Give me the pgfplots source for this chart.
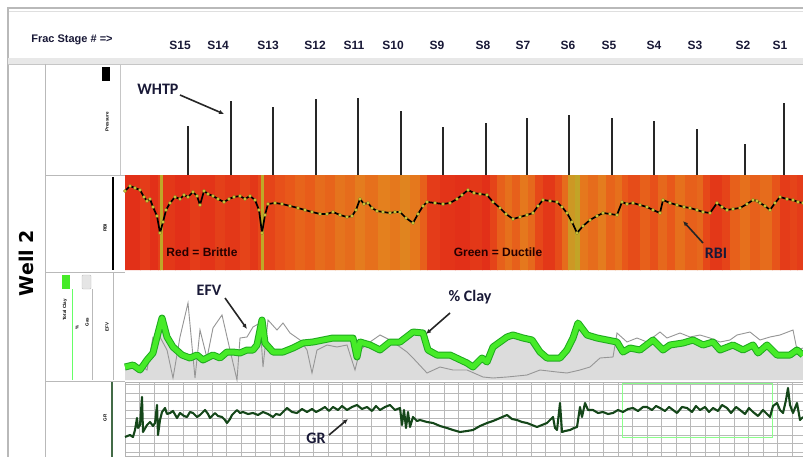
\documentclass[border=0pt]{standalone}
\usepackage{fontspec}
\setmainfont{Liberation Sans}
\newfontfamily\carl{Carlito}
\newfontfamily\dvs{DejaVu Sans}
\usepackage{pgfplots}
\pgfplotsset{compat=1.18}
\usetikzlibrary{arrows.meta}
\definecolor{lbl}{RGB}{25,25,55}
\definecolor{clayG}{RGB}{70,235,40}
\definecolor{clayD}{RGB}{30,170,30}
\definecolor{grG}{RGB}{20,70,25}
\definecolor{efv}{RGB}{150,150,150}
\definecolor{fillg}{RGB}{220,220,220}
\definecolor{beads}{RGB}{222,212,60}
\tikzset{callout/.style={-{Latex[length=5pt,width=4.5pt]}, line width=1.6pt, black!85},
  big/.style={font=\carl\bfseries\fontsize{16}{16}\selectfont, text=lbl, inner sep=0pt}}
\pgfplotstableread{
x y
125 79
130 84
135 82
140 80
144 73
147 69
150 71
153 63
157 54
160 37
163 48
166 60
170 67
175 73
180 71
184 75
188 73
193 78
197 74
200 65
204 79
208 76
213 74
218 71
224 68
229 71
234 73
240 74
245 71
250 74
255 70
259 60
262 37
265 55
268 66
275 67
282 66
290 64
298 62
305 60
312 58
320 56
327 56
333 58
340 55
347 53
352 54
356 60
360 71
364 66
368 67
372 62
377 59
383 58
390 57
395 58
400 58
406 52
413 47
418 56
423 64
427 68
435 67
443 66
450 67
457 71
462 75
468 80
474 77
480 76
487 75
493 68
500 62
506 56
513 51
520 53
527 55
533 57
538 64
543 70
550 69
557 68
562 63
567 57
572 48
577 37
583 44
590 50
597 54
603 57
610 56
617 55
622 68
627 66
633 67
640 65
647 63
653 60
660 57
663 70
670 67
677 65
684 63
690 62
697 60
703 58
710 57
717 67
722 63
727 60
733 61
740 62
747 66
753 70
757 69
760 67
765 64
770 60
775 67
780 73
787 71
793 70
798 68
803 67
}\rbidata
\pgfplotstableread{
x y
125 13
133 15
140 10
147 20
153 27
157 43
162 62
167 43
173 33
182 25
190 22
197 25
203 20
213 25
220 22
227 28
233 28
240 27
247 30
253 30
257 35
262 60
265 37
273 28
283 28
293 32
303 37
313 38
323 40
333 42
343 42
353 42
357 23
360 38
370 35
380 30
390 38
400 38
413 48
423 47
428 30
437 25
450 25
467 17
473 13
482 22
487 18
493 33
507 43
513 45
523 42
532 40
540 28
547 22
560 22
567 30
573 42
578 57
587 45
597 42
607 40
617 38
623 28
630 32
640 30
653 40
663 30
670 35
683 37
693 40
703 35
713 38
720 30
733 35
743 30
753 35
758 27
767 35
777 25
790 25
797 30
803 25
}\claydata
\begin{document}
\begin{tikzpicture}
\useasboundingbox (0,0) rectangle (803pt,-457pt);
\fill[white] (0,0) rectangle (803pt,-457pt);
% frame and header
\draw[gray!55, line width=1.5pt] (8pt,-457pt) -- (8pt,-8pt) -- (803pt,-8pt);
\draw[gray!25, line width=1pt] (9pt,-12pt) -- (803pt,-12pt);
\fill[gray!18] (8pt,-58pt) rectangle (803pt,-64pt);
\draw[gray!45, line width=0.8pt] (8pt,-64pt) -- (803pt,-64pt);
\node[font=\bfseries\fontsize{11}{11}\selectfont, text=lbl, inner sep=0pt] at (72pt,-40pt) {Frac Stage \# =>};
\foreach \x/\s in {180/S15,218/S14,268/S13,315/S12,354/S11,393/S10,437/S9,483/S8,523/S7,568/S6,609/S5,654/S4,695/S3,743/S2,780/S1}
  \node[font=\bfseries\fontsize{12}{12}\selectfont, text=lbl, inner sep=0pt] at (\x pt,-45pt) {\s};
% left column
\draw[gray!55, line width=0.8pt] (45pt,-64pt) -- (45pt,-457pt);
\node[rotate=90, font=\dvs\bfseries\fontsize{19}{19}\selectfont, inner sep=0pt] at (26pt,-263pt) {Well 2};
\foreach \y in {175,272,381} \draw[gray!55, line width=0.8pt] (45pt,-\y pt) -- (125pt,-\y pt);
% label column: pressure
\fill[black] (102pt,-67pt) rectangle (110pt,-81pt);
\draw[gray!45] (120pt,-65pt) -- (120pt,-175pt);
\node[rotate=90, font=\bfseries\fontsize{4.5}{5}\selectfont, inner sep=0pt] at (107pt,-122pt) {Pressure};
% RBI
\draw[black, line width=2pt] (113pt,-177pt) -- (113pt,-270pt);
\node[rotate=90, font=\bfseries\fontsize{4.5}{5}\selectfont, inner sep=0pt] at (105pt,-228pt) {RBI};
% clay
\fill[clayG] (62pt,-275pt) rectangle (70pt,-289pt);
\filldraw[fill=gray!20, draw=gray!50, rounded corners=1pt] (82pt,-275pt) rectangle (91pt,-289pt);
\draw[green!60, line width=0.6pt] (72pt,-289pt) -- (72pt,-380pt);
\draw[gray!55] (92pt,-289pt) -- (92pt,-380pt);
\draw[gray!55] (113pt,-272pt) -- (113pt,-380pt);
\node[rotate=90, font=\bfseries\fontsize{4.5}{5}\selectfont, inner sep=0pt] at (65pt,-310pt) {Total Clay};
\node[rotate=90, font=\bfseries\fontsize{4.5}{5}\selectfont, inner sep=0pt] at (77pt,-327pt) {\%};
\node[rotate=90, font=\bfseries\fontsize{4.5}{5}\selectfont, inner sep=0pt] at (87pt,-322pt) {Gas};
\node[rotate=90, font=\bfseries\fontsize{4.5}{5}\selectfont, inner sep=0pt] at (107pt,-327pt) {EFV};
% GR
\draw[grG!80, line width=1.5pt] (112pt,-382pt) -- (112pt,-457pt);
\node[rotate=90, font=\bfseries\fontsize{4.5}{5}\selectfont, inner sep=0pt] at (105pt,-418pt) {GR};

% ---------- Pressure track ----------
\begin{axis}[at={(125pt,-175pt)}, anchor=south west, scale only axis, width=678pt, height=110pt,
  xmin=125, xmax=803, ymin=0, ymax=110, hide axis, clip=false]
\addplot[ycomb, line width=2.4pt, color=black!85] coordinates {
(188,49)(231,74)(273,68)(316,76)(358,77)(401,64)(443,48)(486,52)(527,57)(569,60)(612,57)(654,54)(697,46)(745,31)(784,72)};
\node[big] at (axis cs:158,86) {WHTP};
\draw[callout] (axis cs:180,80) -- (axis cs:224,61);
\end{axis}

% ---------- RBI colour band ----------
\begin{axis}[at={(125pt,-270pt)}, anchor=south west, scale only axis, width=678pt, height=95pt,
  xmin=125, xmax=803, ymin=0, ymax=95, zmin=-1, zmax=1, view={0}{90}, hide axis,
  colormap={rbi}{rgb255=(226,48,24) rgb255=(232,88,26) rgb255=(228,128,30) rgb255=(190,168,40)},
  point meta min=0, point meta max=3]
\addplot3[surf, shader=flat corner, mesh/rows=2, point meta=explicit] coordinates {
(125,0,0)[0] (140,0,0)[0.3] (150,0,0)[0] (158,0,0)[0.4] (160,0,0)[3] (163,0,0)[0.2] (175,0,0)[0] (190,0,0)[0.3]
(200,0,0)[0.1] (215,0,0)[0.4] (225,0,0)[0.2] (240,0,0)[0.5] (250,0,0)[0.2] (258,0,0)[0.6] (261,0,0)[3] (264,0,0)[0.5]
(275,0,0)[0.8] (285,0,0)[1.0] (295,0,0)[1.3] (305,0,0)[1.1] (315,0,0)[1.5] (325,0,0)[1.3] (335,0,0)[1.7] (345,0,0)[1.5]
(355,0,0)[1.9] (365,0,0)[1.6] (378,0,0)[2.0] (390,0,0)[1.8] (400,0,0)[2.1] (410,0,0)[1.8] (420,0,0)[1.2] (427,0,0)[0.3]
(440,0,0)[0.1] (455,0,0)[0] (470,0,0)[0.2] (482,0,0)[0] (490,0,0)[0.5] (497,0,0)[1.2] (505,0,0)[1.6] (512,0,0)[1.2]
(520,0,0)[1.8] (528,0,0)[1.4] (535,0,0)[0.6] (543,0,0)[0.2] (555,0,0)[0.7] (562,0,0)[1.5] (568,0,0)[2.6] (575,0,0)[2.9]
(580,0,0)[1.8] (588,0,0)[1.5] (598,0,0)[1.9] (606,0,0)[1.3] (615,0,0)[1.6] (622,0,0)[1.0] (628,0,0)[0.7] (640,0,0)[1.2]
(650,0,0)[0.8] (658,0,0)[1.4] (667,0,0)[1.0] (675,0,0)[1.6] (685,0,0)[1.2] (697,0,0)[1.4] (703,0,0)[0.6] (710,0,0)[0.2]
(722,0,0)[0.5] (730,0,0)[1.2] (740,0,0)[1.6] (750,0,0)[1.2] (760,0,0)[1.5] (772,0,0)[0.9] (780,0,0)[0.3] (790,0,0)[0.5]
(797,0,0)[0.3] (803,0,0)[0.3]

(125,95,0)[0] (140,95,0)[0.3] (150,95,0)[0] (158,95,0)[0.4] (160,95,0)[3] (163,95,0)[0.2] (175,95,0)[0] (190,95,0)[0.3]
(200,95,0)[0.1] (215,95,0)[0.4] (225,95,0)[0.2] (240,95,0)[0.5] (250,95,0)[0.2] (258,95,0)[0.6] (261,95,0)[3] (264,95,0)[0.5]
(275,95,0)[0.8] (285,95,0)[1.0] (295,95,0)[1.3] (305,95,0)[1.1] (315,95,0)[1.5] (325,95,0)[1.3] (335,95,0)[1.7] (345,95,0)[1.5]
(355,95,0)[1.9] (365,95,0)[1.6] (378,95,0)[2.0] (390,95,0)[1.8] (400,95,0)[2.1] (410,95,0)[1.8] (420,95,0)[1.2] (427,95,0)[0.3]
(440,95,0)[0.1] (455,95,0)[0] (470,95,0)[0.2] (482,95,0)[0] (490,95,0)[0.5] (497,95,0)[1.2] (505,95,0)[1.6] (512,95,0)[1.2]
(520,95,0)[1.8] (528,95,0)[1.4] (535,95,0)[0.6] (543,95,0)[0.2] (555,95,0)[0.7] (562,95,0)[1.5] (568,95,0)[2.6] (575,95,0)[2.9]
(580,95,0)[1.8] (588,95,0)[1.5] (598,95,0)[1.9] (606,95,0)[1.3] (615,95,0)[1.6] (622,95,0)[1.0] (628,95,0)[0.7] (640,95,0)[1.2]
(650,95,0)[0.8] (658,95,0)[1.4] (667,95,0)[1.0] (675,95,0)[1.6] (685,95,0)[1.2] (697,95,0)[1.4] (703,95,0)[0.6] (710,95,0)[0.2]
(722,95,0)[0.5] (730,95,0)[1.2] (740,95,0)[1.6] (750,95,0)[1.2] (760,95,0)[1.5] (772,95,0)[0.9] (780,95,0)[0.3] (790,95,0)[0.5]
(797,95,0)[0.3] (803,95,0)[0.3]
};
\end{axis}

% ---------- RBI curve ----------
\begin{axis}[at={(125pt,-270pt)}, anchor=south west, scale only axis, width=678pt, height=95pt,
  xmin=125, xmax=803, ymin=0, ymax=95, hide axis, clip=false]
\addplot[black, line width=1.7pt, line join=round] table {\rbidata};
\addplot[only marks, mark=*, mark size=1.6pt, color=beads, mark options={solid, fill=beads, draw=beads!60!black, line width=0.25pt}] table {\rbidata};
\node[font=\bfseries\fontsize{12}{12}\selectfont, text=black!85!red, inner sep=0pt] at (axis cs:202,18) {Red = Brittle};
\node[font=\bfseries\fontsize{12}{12}\selectfont, text=black!85!red, inner sep=0pt] at (axis cs:498,18) {Green = Ductile};
\node[big] at (axis cs:716,17) {RBI};
\draw[callout] (axis cs:703,27) -- (axis cs:683,49);
\end{axis}

% ---------- Clay / EFV track ----------
\begin{axis}[at={(125pt,-380pt)}, anchor=south west, scale only axis, width=678pt, height=108pt,
  xmin=125, xmax=803, ymin=0, ymax=108, hide axis, clip=false]
\addplot[fill=fillg, draw=none] table {\claydata} \closedcycle;
\addplot[efv, line width=0.9pt] coordinates {
(125,10)(140,15)(147,10)(153,43)(160,43)(167,30)(173,2)(180,43)(188,77)(195,2)(200,50)(207,22)(213,52)(222,65)
(230,30)(237,0)(240,42)(247,43)(253,53)(260,57)(263,13)(268,60)(277,50)(283,57)(290,47)(300,40)(307,30)(312,7)
(317,30)(327,35)(337,33)(347,35)(355,10)(360,30)(370,38)(380,45)(390,40)(400,33)(407,28)(413,22)(427,7)(440,13)
(453,10)(467,10)(483,3)(493,2)(507,3)(527,5)(540,10)(557,8)(567,7)(580,10)(590,13)(600,22)(613,23)(617,47)
(627,38)(637,42)(647,38)(660,48)(667,42)(680,47)(690,43)(700,45)(710,42)(720,38)(730,40)(737,45)(750,48)(760,40)
(770,43)(780,45)(793,50)(797,30)(803,32)};
\addplot[clayD, line width=7pt, line join=round] table {\claydata};
\addplot[clayG, line width=5pt, line join=round] table {\claydata};
\node[big] at (axis cs:209,90) {EFV};
\draw[callout] (axis cs:225,82) -- (axis cs:247,51);
\node[big] at (axis cs:470,83) {\% Clay};
\draw[callout] (axis cs:450,67) -- (axis cs:426,46);
\end{axis}

% ---------- GR track ----------
\begin{axis}[at={(125pt,-456pt)}, anchor=south west, scale only axis, width=678pt, height=74pt,
  xmin=125, xmax=803, ymin=-4, ymax=70, clip=false,
  axis line style={gray!60}, xtick={125,139.5,...,803}, ytick={0,8.4,...,68},
  xticklabels={}, yticklabels={}, major tick length=0pt, grid=major,
  grid style={gray!55, line width=0.7pt}]
\addplot[draw=green!45, line width=0.9pt] coordinates {(622,69)(772,69)(772,15)(622,15)(622,69)};
\addplot[grG, line width=2.1pt, line join=round] coordinates {
(125,15)(130,17)(133,15)(135,22)(137,34)(138,24)(140,27)(142,55)(143,20)(147,27)(150,30)(153,26)(155,29)(157,47)
(158,17)(160,32)(162,40)(165,44)(167,38)(170,39)(173,41)(177,34)(180,39)(184,36)(187,35)(190,40)(193,39)(197,35)
(200,37)(205,42)(208,38)(210,34)(215,39)(218,36)(222,35)(225,32)(227,29)(230,33)(232,37)(237,42)(240,39)(243,40)
(248,38)(253,39)(258,37)(263,40)(268,38)(273,35)(276,38)(280,37)(284,41)(287,44)(292,40)(297,39)(302,43)(307,40)
(312,43)(316,40)(320,42)(325,45)(329,41)(333,45)(338,42)(342,46)(347,42)(352,45)(357,47)(362,43)(367,45)(372,41)
(376,46)(380,42)(385,45)(390,47)(395,42)(400,44)(402,27)(404,42)(406,24)(408,40)(410,25)(413,35)(417,31)(420,32)
(427,30)(433,29)(440,26)(447,24)(453,22)(460,20)(467,21)(473,22)(480,26)(487,29)(493,31)(500,34)(507,37)(512,33)
(517,32)(522,30)(527,29)(532,27)(537,25)(542,27)(547,29)(551,33)(553,35)(555,24)(557,22)(560,49)(562,20)(565,21)
(570,22)(574,24)(577,25)(580,45)(582,35)(585,49)(588,42)(593,42)(598,39)(603,40)(608,38)(613,39)(618,42)(623,40)
(628,43)(633,44)(638,41)(643,45)(647,45)(652,42)(656,46)(660,44)(665,41)(669,45)(673,42)(677,39)(682,45)(687,44)
(692,40)(696,46)(700,42)(705,45)(709,40)(713,44)(718,41)(722,47)(727,44)(731,39)(736,45)(740,42)(745,38)(749,44)
(753,40)(758,36)(763,42)(767,38)(770,35)(773,46)(777,49)(780,42)(783,39)(786,52)(788,64)(790,47)(793,39)(797,49)
(800,32)(803,35)};
\node[big] at (axis cs:316,14) {GR};
\draw[callout] (axis cs:329,17) -- (axis cs:348,33);
\end{axis}
\end{tikzpicture}
\end{document}
